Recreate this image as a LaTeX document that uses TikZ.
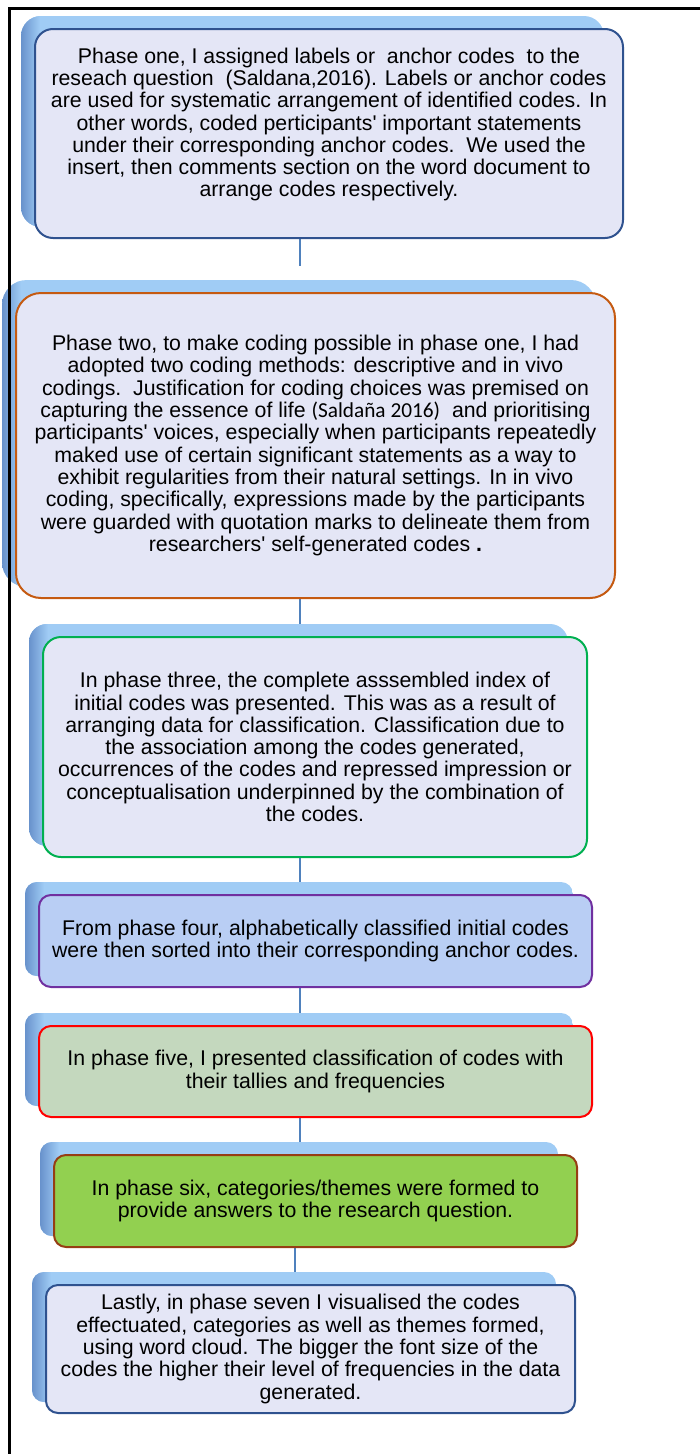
\documentclass[tikz,border=0pt]{standalone}
\usepackage{fontspec}
\setmainfont{Liberation Sans}
\newfontfamily\calibrifont{Carlito}
\usetikzlibrary{backgrounds}
\definecolor{boxfill}{RGB}{228,230,246}
\definecolor{shadowblue}{RGB}{160,204,245}
\definecolor{shadowdark}{RGB}{104,146,204}
\definecolor{linkblue}{RGB}{79,129,189}
\definecolor{navyline}{RGB}{47,82,143}
\definecolor{orangeline}{RGB}{197,90,17}
\definecolor{greenline}{RGB}{0,176,80}
\definecolor{purpleline}{RGB}{112,48,160}
\definecolor{redline}{RGB}{255,0,0}
\definecolor{brownline}{RGB}{150,62,20}
\definecolor{bluefill}{RGB}{185,206,244}
\definecolor{sagefill}{RGB}{196,216,190}
\definecolor{limefill}{RGB}{146,208,80}
\newcommand{\ap}{\textquotesingle}
\tikzset{
  phasebox/.style={draw, line width=2pt, fill=boxfill, rounded corners=12pt, align=center, inner sep=0pt,
    font=\fontsize{21.3}{22.3}\selectfont},
  link/.style={draw=linkblue, line width=2.5pt},
}
\begin{document}
\begin{tikzpicture}[x=1pt,y=-1pt]
\useasboundingbox (0,0) rectangle (700,1454);
% frame
\draw[line width=3pt] (9.5,1454) -- (9.5,8) -- (700,8);
% phases
\node[phasebox, draw=navyline, rounded corners=18pt, minimum width=588pt, minimum height=209pt] (b1) at (329,133.5)
 {Phase one, I assigned labels or\ \ anchor codes\ \ to the\\
  reseach question\ \ (Saldana,2016). Labels or anchor codes\\
  are used for systematic arrangement of identified codes. In\\
  other words, coded perticipants\ap\ important statements\\
  under their corresponding anchor codes.\ \ We used the\\
  insert, then comments section on the word document to\\
  arrange codes respectively.\\ \mbox{}};
\node[phasebox, draw=orangeline, rounded corners=25pt, minimum width=599pt, minimum height=305pt] (b2) at (315.5,445.5)
 {Phase two, to make coding possible in phase one, I had\\
  adopted two coding methods: descriptive and in vivo\\
  codings.\ \ Justification for coding choices was premised on\\
  capturing the essence of life {\calibrifont (Salda\~na 2016)}\ \ and prioritising\\
  participants\ap\ voices, especially when participants repeatedly\\
  maked use of certain significant statements as a way to\\
  exhibit regularities from their natural settings. In in vivo\\
  coding, specifically, expressions made by the participants\\
  were guarded with quotation marks to delineate them from\\
  researchers\ap\ self-generated codes \textbf{.}};
\node[phasebox, draw=greenline, rounded corners=18pt, minimum width=544pt, minimum height=220pt] (b3) at (315,747)
 {In phase three, the complete asssembled index of\\
  initial codes was presented. This was as a result of\\
  arranging data for classification. Classification due to\\
  the association among the codes generated,\\
  occurrences of the codes and repressed impression or\\
  conceptualisation underpinned by the combination of\\
  the codes.};
\node[phasebox, draw=purpleline, fill=bluefill, minimum width=553pt, minimum height=92pt] (b4) at (315.5,941)
 {From phase four, alphabetically classified initial codes\\
  were then sorted into their corresponding anchor codes.};
\node[phasebox, draw=redline, fill=sagefill, minimum width=553pt, minimum height=91pt] (b5) at (315.5,1071.5)
 {In phase five, I presented classification of codes with\\
  their tallies and frequencies};
\node[phasebox, draw=brownline, fill=limefill, minimum width=523pt, minimum height=92pt] (b6) at (315.5,1201)
 {In phase six, categories/themes were formed to\\
  provide answers to the research question.};
\node[phasebox, draw=navyline, minimum width=529pt, minimum height=128pt] (b7) at (310.5,1349)
 {Lastly, in phase seven I visualised the codes\\
  effectuated, categories as well as themes formed,\\
  using word cloud. The bigger the font size of the\\
  codes the higher their level of frequencies in the data\\
  generated.};
% connectors and raised backs
\coordinate (spine) at (300,0);
\coordinate (spinelow) at (295,0);
\coordinate (b1end) at (300,266);
\begin{scope}[on background layer]
\draw[link] (b1.south -| spine) -- (b1end);
\foreach \a/\b in {b2/b3,b3/b4,b4/b5,b5/b6}
  \draw[link] (\a.south -| spine) -- ([yshift=12pt]\b.north -| spine);
\draw[link] (b6.south -| spinelow) -- ([yshift=12pt]b7.north -| spinelow);
\foreach \b/\r in {b1/20,b2/25,b3/18,b4/12,b5/12,b6/12,b7/12}{
  \begin{scope}
  \path[clip, rounded corners=\r pt] ([shift={(-13,-12)}]\b.north west) rectangle ([shift={(-20,-12)}]\b.south east);
  \fill[shadowblue] ([shift={(-13,-12)}]\b.north west) rectangle ([shift={(-20,-12)}]\b.south east);
  \shade[left color=shadowdark, right color=shadowblue] ([shift={(-13,-12)}]\b.north west) rectangle ([shift={(6,-12)}]\b.south west);
  \end{scope}
}
\end{scope}
\end{tikzpicture}
\end{document}
